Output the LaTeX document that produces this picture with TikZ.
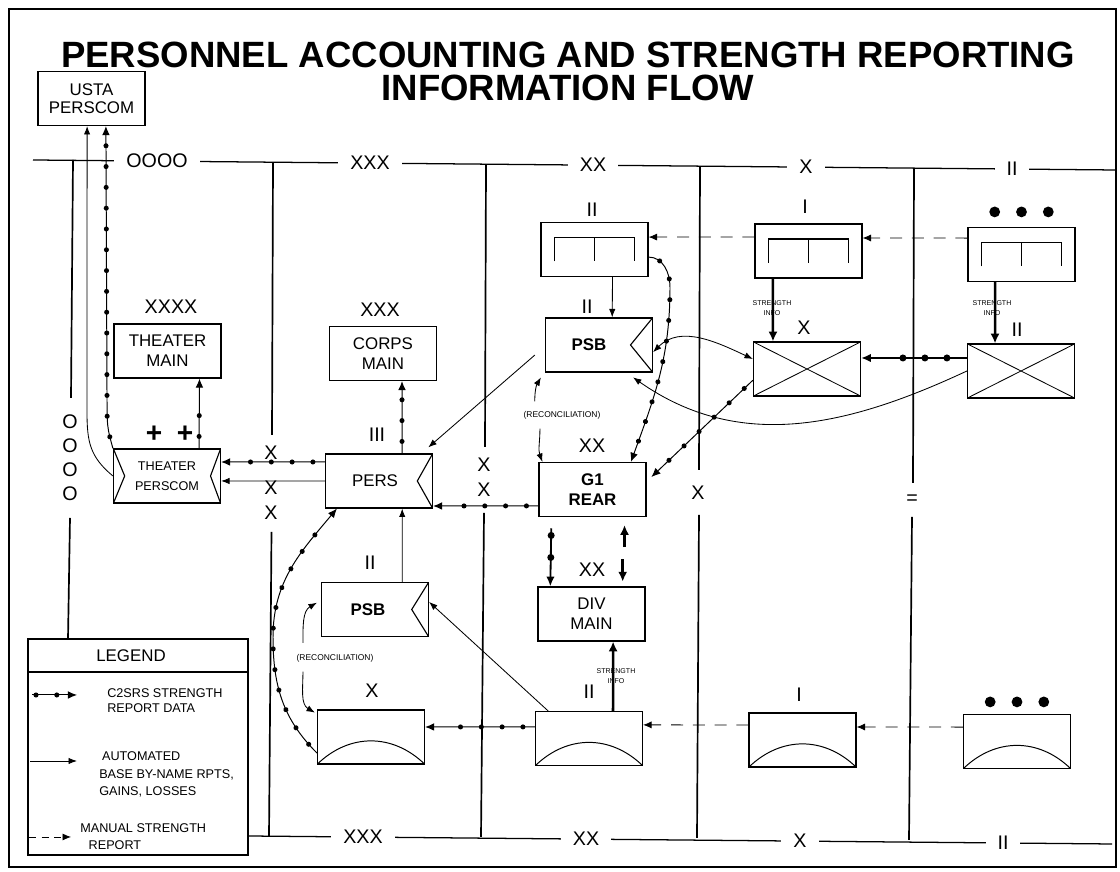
\documentclass[tikz,border=0pt]{standalone}
\usepackage{fontspec}
\setmainfont{Liberation Sans}
\usetikzlibrary{arrows.meta,decorations.markings,positioning}

\begin{document}
\begin{tikzpicture}[x=0.025cm, y=0.025cm,
    unit/.style={draw, line width=0.8pt, minimum width=2.675cm, minimum height=1.35cm,
      inner sep=1pt, align=center, font=\fontsize{12}{14.2}\selectfont},
    persbox/.style={unit, path picture={\draw[line width=0.8pt]
      (path picture bounding box.north east) -- ([xshift=-#1]path picture bounding box.east)
      -- (path picture bounding box.south east);}},
    tpbox/.style={unit, font=\fontsize{9}{14}\selectfont, path picture={\draw[line width=0.8pt]
      (path picture bounding box.north west) -- ([xshift=0.28cm]path picture bounding box.west)
      -- (path picture bounding box.south west)
      (path picture bounding box.north east) -- ([xshift=-0.25cm]path picture bounding box.east)
      -- (path picture bounding box.south east);}},
    crossbox/.style={unit, path picture={\draw[line width=0.6pt]
      (path picture bounding box.north west) -- (path picture bounding box.south east)
      (path picture bounding box.south west) -- (path picture bounding box.north east);}},
    fieldbox/.style={unit, path picture={
      \draw[line width=0.8pt] ([shift={(-1cm,-0.3cm)}]path picture bounding box.center)
        -- ++(0,0.6cm) -- ++(2cm,0) -- ++(0,-0.6cm);
      \draw[line width=0.8pt] ([yshift=0.3cm]path picture bounding box.center) -- ++(0,-0.6cm);}},
    arcbox/.style={unit, path picture={\draw[line width=0.7pt]
      (path picture bounding box.south west) .. controls +(0.8cm,0.77cm) and +(-0.8cm,0.77cm)
      .. (path picture bounding box.south east);}},
    boldunit/.style={font=\fontsize{12}{14.2}\selectfont\bfseries},
    ech/.style={font=\fontsize{14}{16}\selectfont, inner sep=0pt},
    tinytxt/.style={font=\fontsize{5}{7.5}\selectfont, align=center, inner sep=0pt},
    recon/.style={font=\fontsize{6}{7}\selectfont, inner sep=1pt},
    legtxt/.style={font=\fontsize{9}{12.5}\selectfont, align=left, inner sep=0pt, anchor=west},
    rule/.style={line width=0.9pt},
    divider/.style={line width=1.2pt},
    autoarr/.style={line width=0.6pt, -{Latex[length=6pt,width=4.5pt]}},
    manarr/.style={line width=0.6pt, dash pattern=on 8.5pt off 7pt, -{Latex[length=6pt,width=5pt]}},
    strarr/.style={line width=1.8pt, -{Latex[length=7pt,width=6.5pt]}},
    c2srs/.style={line width=0.7pt, -{Latex[length=6.5pt,width=5.5pt]},
      decoration={markings, mark=between positions #1 step 0.52cm with {\fill (0,0) circle (1.8pt);}},
      postaction={decorate}},
    c2srs/.default={0.3cm and -0.45cm},
    c2srsbig/.style={line width=1.3pt, -{Latex[length=7pt,width=6pt]},
      decoration={markings, mark=between positions #1 step 0.55cm with {\fill (0,0) circle (2.5pt);}},
      postaction={decorate}},
    c2srsbig/.default={0.5cm and -0.5cm}]

    % Frame and title
    \useasboundingbox (0,0) rectangle (1120,872);
    \draw[line width=1.5pt] (9,5) rectangle (1116,863);
    \node[font=\fontsize{26}{23.5}\selectfont\bfseries, align=center] (title) at (568,800.5)
      {PERSONNEL ACCOUNTING AND STRENGTH REPORTING\\INFORMATION FLOW};

    % Echelon boundaries
    \draw[rule] (33,712) -- (1115,702);
    \draw[rule] (248,36) -- (1112,28);
    \foreach \x/\y/\t in {157/710.9/OOOO, 370/708.9/XXX, 593/706.8/XX, 806/704.9/X, 1012/703/II}
      \node[ech, fill=white, inner xsep=0.3cm, inner ysep=1pt] (tl-\t) at (\x,\y) {\t};
    \foreach \x/\y/\t in {363/34.9/XXX, 586/32.9/XX, 800/30.9/X, 1003/29/II}
      \node[ech, fill=white, inner xsep=0.3cm, inner ysep=1pt] (bl-\t) at (\x,\y) {\t};
    \draw[divider] (73,712) -- (71,474) (70,354) -- (68,233);
    \draw[divider] (273,709.8) -- (272,437) (271.5,340) -- (269,35.5);
    \draw[divider] (486,707.8) -- (485,425) (484,359) -- (481,35);
    \draw[divider] (700,705.8) -- (699,402) (699,357) -- (697,34);
    \draw[divider] (914,703.9) -- (913,389) (912,355) -- (909,32);
    \node[ech, align=center, font=\fontsize{14}{17}\selectfont] (oooo) at (70,414) {O\\O\\O\\O};
    \node[ech] (xa) at (271,419) {X};
    \node[ech] (xb) at (271,384) {X};
    \node[ech] (xc) at (271,359) {X};
    \node[ech] (xd) at (484,407) {X};
    \node[ech] (xe) at (484,382) {X};
    \node[ech] (xf) at (698,379) {X};
    \node[ech] (eq) at (912,372) {=};

    % Units
    \node[unit, font=\fontsize{12}{13}\selectfont] (usta) at (91.5,773.5) {USTA\\PERSCOM};
    \node[unit] (tm) at (167.5,521) {THEATER\\MAIN};
    \node[tpbox] (tp) at (167,396) {THEATER\\PERSCOM};
    \node[unit] (corps) at (383,518.5) {CORPS\\MAIN};
    \node[persbox=0.38cm] (pers) at (379,391) {PERS\hspace*{0.2cm}};
    \node[persbox=0.55cm, boldunit] (psbu) at (599,527) {PSB\hspace*{0.5cm}};
    \node[fieldbox] (iitop) at (594.5,622.5) {};
    \node[fieldbox] (itop) at (808.5,621) {};
    \node[fieldbox] (sqtop) at (1021.5,617.5) {};
    \node[crossbox] (xcross) at (807,503) {};
    \node[crossbox] (iicross) at (1021,501) {};
    \node[unit, boldunit] (g1) at (592.5,382.5) {G1\\REAR};
    \node[unit] (div) at (591.5,258) {DIV\\MAIN};
    \node[persbox=0.42cm, boldunit] (psbl) at (375,262.5) {PSB\hspace*{0.35cm}};
    \node[arcbox] (xarc) at (371,135) {};
    \node[arcbox] (iiarc) at (589,133.5) {};
    \node[arcbox] (iarc) at (802.5,132) {};
    \node[arcbox] (sqarc) at (1017,130.5) {};

    % Unit size symbols
    \node[ech] (tmlbl) at (171,565) {XXXX};
    \node[ech] (corpslbl) at (380,562) {XXX};
    \node[ech] (perslbl) at (377,437) {III};
    \node[ech] (psbulbl) at (587,565) {II};
    \node[ech] (iitoplbl) at (592,662) {II};
    \node[ech] (itoplbl) at (805,665) {I};
    \node[ech] (xcrosslbl) at (804,544) {X};
    \node[ech] (iicrosslbl) at (1017,542) {II};
    \node[ech] (g1lbl) at (592,426) {XX};
    \node[ech] (divlbl) at (592,302) {XX};
    \node[ech] (psbllbl) at (370,309) {II};
    \node[ech] (xarclbl) at (372,181) {X};
    \node[ech] (iiarclbl) at (589,180) {II};
    \node[ech] (iarclbl) at (799,177) {I};
    \node[font=\fontsize{20}{22}\selectfont\bfseries, inner sep=0pt] (plusa) at (154,438) {+};
    \node[font=\fontsize{20}{22}\selectfont\bfseries, inner sep=0pt] (plusb) at (185,438) {+};
    \foreach \dx in {-0.67,0,0.67} {
      \fill ([xshift=\dx cm, yshift=0.375cm]sqtop.north) circle (0.135cm);
      \fill ([xshift=\dx cm, yshift=0.3cm]sqarc.north) circle (0.135cm);
    }

    % C2SRS strength report data
    \draw[c2srs] (tp.north west) .. controls (107,445) .. (107,480) -- ([xshift=0.36cm]usta.south);
    \draw[c2srs] ([xshift=0.8cm]tp.north) -- ([xshift=0.8cm]tm.south);
    \draw[c2srs] ([yshift=0.475cm]pers.west) -- ([yshift=0.35cm]tp.east);
    \draw[c2srs] ([xshift=0.575cm]pers.north) -- ([xshift=0.475cm]corps.south);
    \draw[c2srs] ([yshift=-0.41cm]g1.west) -- ([yshift=-0.625cm]pers.east);
    \draw[c2srs] ([yshift=-0.19cm]iitop.east) to[out=0,in=90] (670,585)
      to[out=-90,in=70] ([xshift=0.96cm]g1.north);
    \draw[c2srs] ([yshift=-0.28cm]xcross.west) -- ([xshift=0.12cm,yshift=0.31cm]g1.east);
    \draw[c2srs] ([yshift=-0.4cm]xarc.west) to[out=135,in=-90] (273,235)
      to[out=90,in=-130] ([xshift=0.3cm]pers.south west);
    \draw[c2srs] ([yshift=0.29cm]iiarc.west) -- ([yshift=0.25cm]xarc.east);
    \draw[c2srsbig] ([yshift=0.325cm]iicross.west) -- ([yshift=0.275cm]xcross.east);
    \draw[c2srsbig={0.18cm and -0.6cm}] ([xshift=-1.03cm,yshift=-0.28cm]g1.south) -- ([xshift=-1.03cm]div.north);

    % Automated by-name reports
    \draw[autoarr] (tp.west) .. controls (90,415) and (87,430) .. (87,460) -- ([xshift=-0.11cm]usta.south);
    \draw[autoarr] (pers.west) -- ([yshift=-0.125cm]tp.east);
    \draw[autoarr] ([shift={(-0.25cm,-0.25cm)}]psbu.west) -- ([shift={(-0.12cm,0.15cm)}]pers.north east);
    \draw[autoarr] ([xshift=0.45cm]iitop.south) -- ([xshift=0.33cm]psbu.north);
    \draw[autoarr, {Latex[length=6pt,width=4.5pt]}-{Latex[length=6pt,width=4.5pt]}]
      ([yshift=-0.18cm]psbu.east) to[out=45,in=155] ([yshift=0.25cm]xcross.west);
    \draw[autoarr] (iicross.west) to[out=205,in=-35] ([xshift=0.85cm,yshift=-0.12cm]psbu.south);
    \draw[autoarr] ([xshift=0.68cm]psbl.north) -- ([xshift=0.58cm]pers.south);
    \draw[autoarr] ([xshift=0.33cm]iiarc.north west) -- ([yshift=0.19cm]psbl.east);

    % Reconciliation
    \node[recon] (rectu) at (562,457) {(RECONCILIATION)};
    \draw[autoarr] ([xshift=0.32cm,yshift=0.2cm]rectu.north west) to[out=90,in=-120]
      ([xshift=-0.1cm,yshift=-0.12cm]psbu.south west);
    \draw[autoarr] ([xshift=0.45cm,yshift=-0.2cm]rectu.south west) to[out=-90,in=110]
      ([xshift=0.1cm]g1.north west);
    \node[recon] (rectl) at (335,214) {(RECONCILIATION)};
    \draw[autoarr] ([xshift=0.2cm,yshift=0.24cm]rectl.north west) to[out=90,in=-150]
      ([xshift=-0.1cm,yshift=0.17cm]psbl.west);
    \draw[autoarr] ([xshift=0.2cm,yshift=-0.2cm]rectl.south west) to[out=-90,in=150]
      ([xshift=-0.05cm,yshift=-0.08cm]xarc.north west);

    % Manual strength reports
    \draw[manarr] ([yshift=0.35cm]itop.west) -- ([yshift=0.31cm]iitop.east);
    \draw[manarr] ([yshift=0.41cm]sqtop.west) -- ([yshift=0.325cm]itop.east);
    \draw[manarr] ([yshift=0.375cm]iarc.west) -- ([yshift=0.34cm]iiarc.east);
    \draw[manarr] ([yshift=0.36cm]sqarc.west) -- ([yshift=0.325cm]iarc.east);

    % Strength info
    \draw[strarr] ([xshift=-0.89cm]itop.south) -- ([xshift=-0.85cm]xcross.north);
    \draw[strarr] ([xshift=-0.66cm]sqtop.south) -- ([xshift=-0.65cm]iicross.north);
    \draw[strarr] ([xshift=0.6cm]iiarc.north) -- ([xshift=0.54cm]div.south);
    \draw[strarr] ([xshift=0.8cm,yshift=-0.75cm]g1.south) -- ([xshift=0.8cm,yshift=-0.2cm]g1.south);
    \draw[strarr] ([xshift=0.78cm,yshift=0.68cm]div.north) -- ([xshift=0.78cm,yshift=0.12cm]div.north);
    \node[tinytxt] (sia) at (772,564) {STRENGTH\\INFO};
    \node[tinytxt] (sib) at (992,564) {STRENGTH\\INFO};
    \node[tinytxt] (sic) at (616,196) {STRENGTH\\INFO};

    % Legend
    \draw[line width=1pt] (28,17) rectangle (248,233);
    \draw[line width=1pt] (28,200) -- (248,200);
    \node[font=\fontsize{12}{14}\selectfont] (lgtitle) at (131,216) {LEGEND};
    \coordinate (lga1) at (32,177);  \coordinate (lga2) at (77,177);
    \coordinate (lgb1) at (30,111);  \coordinate (lgb2) at (77,111);
    \coordinate (lgc1) at (29,35);   \coordinate (lgc2) at (71,35);
    \draw[c2srs={0.1cm and 0.7cm}] (lga1) -- (lga2);
    \draw[autoarr] (lgb1) -- (lgb2);
    \draw[manarr, dash pattern=on 5pt off 4pt] (lgc1) -- (lgc2);
    \node[legtxt, font=\fontsize{9}{10.6}\selectfont] (lgt1) at (107,171.5) {C2SRS STRENGTH\\REPORT DATA};
    \node[legtxt] (lgt2) at (99,97.5) {\hspace*{2pt}AUTOMATED\\BASE BY-NAME RPTS,\\GAINS, LOSSES};
    \node[legtxt] (lgt3) at (80,35.5) {MANUAL STRENGTH\\\hspace*{6pt}REPORT};

\end{tikzpicture}
\end{document}
